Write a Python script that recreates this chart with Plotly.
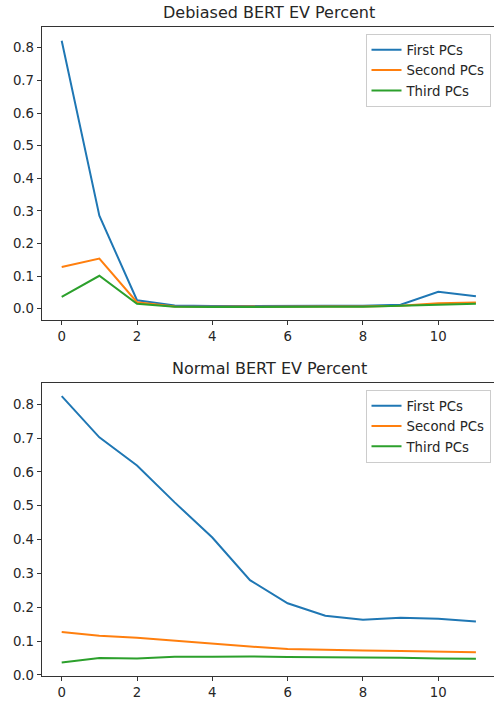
import plotly.graph_objects as go

layers = list(range(12))
series_names = ["First PCs", "Second PCs", "Third PCs"]
colors = ["#1f77b4", "#ff7f0e", "#2ca02c"]

debiased_first = [0.822, 0.285, 0.026, 0.010, 0.008, 0.009, 0.009, 0.009, 0.009, 0.012, 0.052, 0.038]
debiased_second = [0.128, 0.154, 0.020, 0.007, 0.006, 0.007, 0.007, 0.007, 0.007, 0.009, 0.017, 0.019]
debiased_third = [0.036, 0.101, 0.015, 0.006, 0.005, 0.006, 0.006, 0.006, 0.006, 0.008, 0.012, 0.015]

normal_first = [0.824, 0.702, 0.619, 0.510, 0.406, 0.280, 0.212, 0.175, 0.163, 0.169, 0.166, 0.158]
normal_second = [0.127, 0.116, 0.110, 0.101, 0.092, 0.084, 0.077, 0.074, 0.072, 0.071, 0.068, 0.067]
normal_third = [0.037, 0.050, 0.049, 0.054, 0.054, 0.055, 0.053, 0.053, 0.052, 0.051, 0.049, 0.048]

titles = ["Debiased BERT EV Percent", "Normal BERT EV Percent"]
y_ticks = [0.0, 0.1, 0.2, 0.3, 0.4, 0.5, 0.6, 0.7, 0.8]
x_ticks = [0, 2, 4, 6, 8, 10]

W, H = 494, 710
FONT = "DejaVu Sans"

fig = go.Figure()

panels = [
    ([debiased_first, debiased_second, debiased_third], "x", "y", "legend"),
    ([normal_first, normal_second, normal_third], "x2", "y2", "legend2"),
]
for data, xa, ya, lg in panels:
    for name, vals, col in zip(series_names, data, colors):
        fig.add_trace(go.Scatter(
            x=layers, y=vals, mode="lines", name=name,
            line=dict(color=col, width=2),
            xaxis=xa, yaxis=ya, legend=lg,
        ))

x_dom = [41.7 / W, 1.0]
top_dom = [1 - 323.3 / H, 1 - 27.7 / H]
bot_dom = [1 - 682.5 / H, 1 - 386.7 / H]

axis_common = dict(
    showgrid=False, zeroline=False, showline=True, linecolor="#333333", linewidth=1,
    ticks="outside", ticklen=4, tickcolor="#333333", tickwidth=1,
    tickfont=dict(family=FONT, size=13.3, color="#262626"),
)

fig.update_layout(
    width=W, height=H,
    margin=dict(l=0, r=0, t=0, b=0),
    paper_bgcolor="white", plot_bgcolor="white",
    showlegend=True,
    xaxis=dict(domain=x_dom, anchor="y", range=[-0.531, 11.48], tickvals=x_ticks,
               mirror=True, **axis_common),
    yaxis=dict(domain=top_dom, anchor="x", range=[-0.035, 0.8626], tickvals=y_ticks,
               tickformat=".1f", **axis_common),
    xaxis2=dict(domain=x_dom, anchor="y2", range=[-0.531, 11.48], tickvals=x_ticks,
                mirror=True, **axis_common),
    yaxis2=dict(domain=bot_dom, anchor="x2", range=[-0.0023, 0.863], tickvals=y_ticks,
                tickformat=".1f", **axis_common),
    legend=dict(x=490.5 / W, xanchor="right", y=1 - 34 / H, yanchor="top",
                bgcolor="rgba(255,255,255,0.8)", bordercolor="#cccccc", borderwidth=1,
                font=dict(family=FONT, size=13.3, color="#262626"), tracegroupgap=0),
    legend2=dict(x=490.5 / W, xanchor="right", y=1 - 393.5 / H, yanchor="top",
                 bgcolor="rgba(255,255,255,0.8)", bordercolor="#cccccc", borderwidth=1,
                 font=dict(family=FONT, size=13.3, color="#262626"), tracegroupgap=0),
)

title_centers_x = (41.7 + 497) / 2 / W
for title, dom in zip(titles, [top_dom, bot_dom]):
    fig.add_annotation(
        text=title, xref="paper", yref="paper", x=title_centers_x, y=dom[1],
        xanchor="center", yanchor="bottom", yshift=3, showarrow=False,
        font=dict(family=FONT, size=16, color="#262626"),
    )

fig.write_html("out.html")
